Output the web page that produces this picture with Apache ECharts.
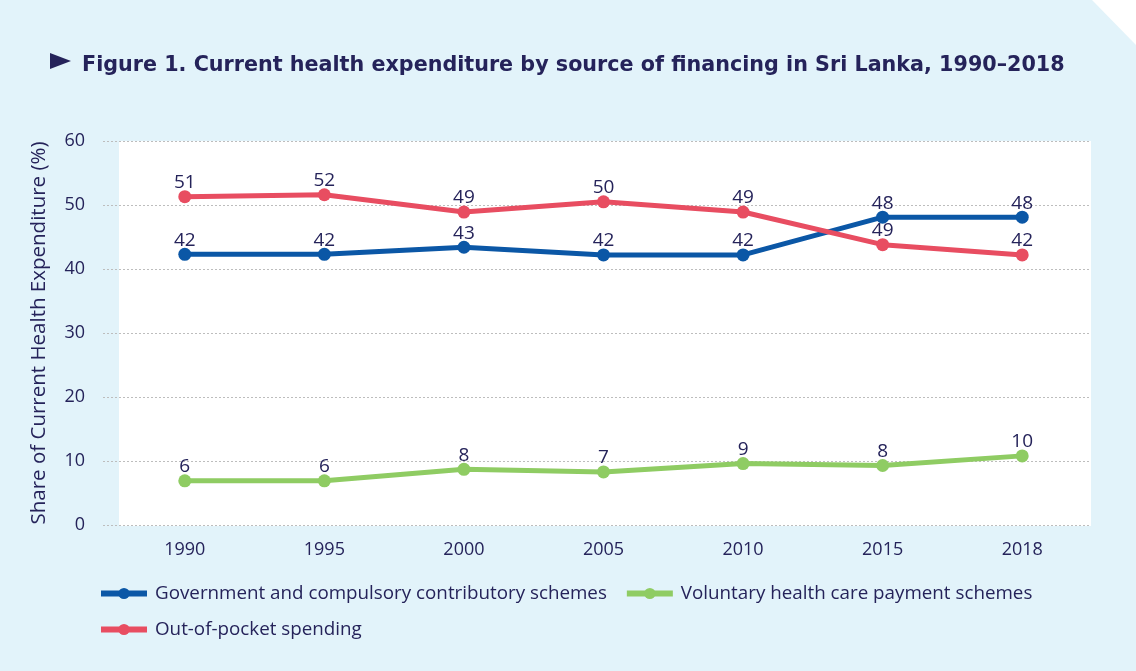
<!DOCTYPE html>
<html>
<head>
<meta charset="utf-8">
<title>Figure 1</title>
<script src="https://cdn.jsdelivr.net/npm/echarts@6/dist/echarts.min.js"></script>
<style>
  html, body { margin: 0; padding: 0; background: #ffffff; }
  #main { width: 1136px; height: 671px; }
</style>
</head>
<body>
<div id="main"></div>
<script>
// years on the x axis
var years = ["1990", "1995", "2000", "2005", "2010", "2015", "2018"];
// plotted positions
var govValues = [42.3, 42.3, 43.4, 42.2, 42.2, 48.1, 48.1];
var oopValues = [51.3, 51.6, 48.9, 50.5, 48.9, 43.8, 42.2];
var volValues = [6.9, 6.9, 8.7, 8.3, 9.6, 9.3, 10.8];
// printed labels (as they appear in the figure)
var govLabels = [42, 42, 43, 42, 42, 48, 48];
var oopLabels = [51, 52, 49, 50, 49, 49, 42];
var volLabels = [6, 6, 8, 7, 9, 8, 10];
var yTicks = [0, 10, 20, 30, 40, 50, 60];

var navy = "#25235a";
var font = "Open Sans";

var chart = echarts.init(document.getElementById("main"));

function series(name, vals, labels, color) {
  return {
    name: name,
    type: "line",
    xAxisIndex: 0,
    yAxisIndex: 0,
    data: vals,
    symbol: "circle",
    symbolSize: 13,
    z: 5,
    lineStyle: { width: 5, color: color },
    itemStyle: { color: color },
    label: {
      show: true,
      position: "top",
      distance: 0,
      offset: [0, 2],
      color: navy,
      fontFamily: font,
      fontSize: 19,
      formatter: function (p) { return labels[p.dataIndex]; }
    }
  };
}

chart.setOption({
  backgroundColor: "#ffffff",
  animation: false,
  textStyle: { fontFamily: font },
  graphic: [
    {
      // light blue panel with the clipped corner
      type: "polygon",
      z: -10,
      silent: true,
      shape: { points: [[0, 0], [1092, 0], [1136, 45], [1136, 671], [0, 671]] },
      style: { fill: "#e2f3fa" }
    },
    {
      type: "rect",
      z: -9,
      silent: true,
      shape: { x: 119, y: 141, width: 972, height: 385 },
      style: { fill: "#ffffff" }
    },
    {
      type: "polygon",
      silent: true,
      shape: { points: [[50, 53], [71, 61], [50, 69]] },
      style: { fill: navy }
    }
  ],
  title: {
    text: "Figure 1. Current health expenditure by source of financing in Sri Lanka, 1990–2018",
    left: 77,
    top: 50,
    textStyle: { fontFamily: "DejaVu Sans", fontWeight: "bold", fontSize: 20.7, color: navy }
  },
  legend: {
    left: 98,
    top: 584,
    padding: 0,
    width: 980,
    itemWidth: 46,
    itemHeight: 14,
    itemGap: 17,
    lineStyle: { width: 6 },
    data: [
      "Government and compulsory contributory schemes",
      "Voluntary health care payment schemes",
      "Out-of-pocket spending"
    ],
    textStyle: { color: navy, fontSize: 18.8, fontFamily: font, padding: [0, 3, 0, 3] }
  },
  grid: [
    { left: 115, right: 44, top: 141, bottom: 146 },
    { left: 103, right: 45, top: 141, bottom: 146 }
  ],
  xAxis: [
    {
      type: "category",
      gridIndex: 0,
      data: years,
      boundaryGap: true,
      axisLine: { show: false },
      axisTick: { show: false },
      axisLabel: { color: navy, fontSize: 18, margin: 16, fontFamily: font }
    },
    {
      type: "value",
      gridIndex: 1,
      show: false
    }
  ],
  yAxis: [
    {
      type: "value",
      gridIndex: 0,
      min: 0,
      max: 60,
      interval: 10,
      show: false,
      splitLine: { show: false }
    },
    {
      type: "value",
      gridIndex: 1,
      min: yTicks[0],
      max: yTicks[yTicks.length - 1],
      interval: 10,
      name: "Share of Current Health Expenditure (%)",
      nameLocation: "middle",
      nameGap: 53,
      nameTextStyle: { color: navy, fontSize: 20.5, fontFamily: font },
      axisLine: { show: false },
      axisTick: { show: false },
      axisLabel: { color: navy, fontSize: 18, margin: 18, fontFamily: font },
      splitLine: { lineStyle: { type: [2, 2], color: "#bdbdbd", width: 1 } }
    }
  ],
  series: [
    series("Government and compulsory contributory schemes", govValues, govLabels, "#0b57a6"),
    series("Voluntary health care payment schemes", volValues, volLabels, "#8fcc63"),
    series("Out-of-pocket spending", oopValues, oopLabels, "#e84d61")
  ]
});
</script>
</body>
</html>
